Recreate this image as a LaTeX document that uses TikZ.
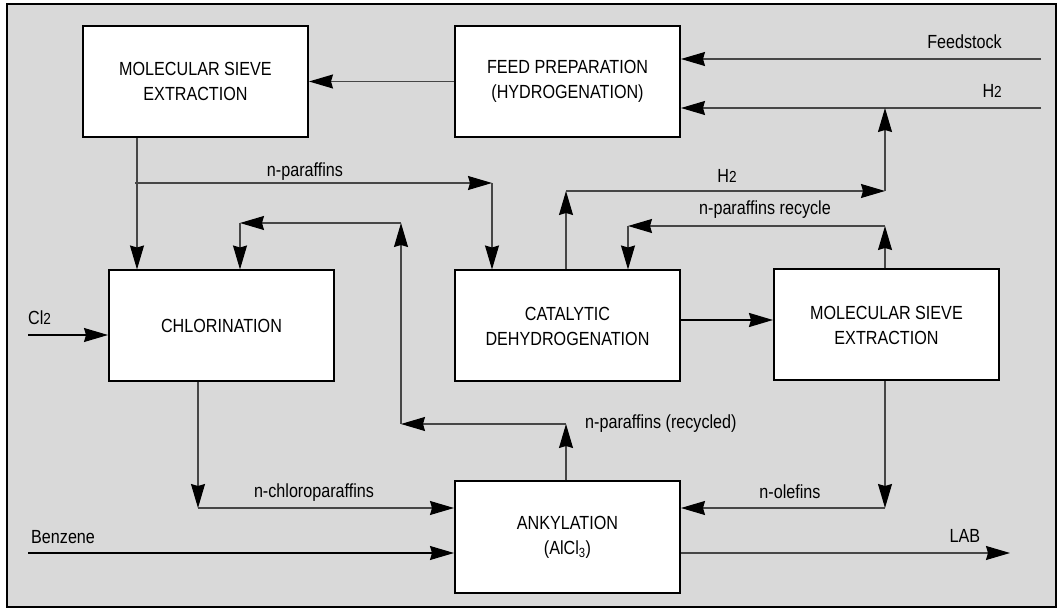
\documentclass[tikz,border=0pt]{standalone}
\usepackage{fontspec}
\setmainfont[FakeStretch=0.85]{Liberation Sans}
\usetikzlibrary{arrows.meta}
\definecolor{bggray}{RGB}{217,217,217}
\definecolor{linegray}{RGB}{70,70,70}
\newcommand{\sub}[1]{{\fontsize{16}{16}\selectfont #1}}
\tikzset{
  box/.style={draw=black, fill=white, line width=2pt, minimum width=225pt, minimum height=111pt, align=center, inner sep=0pt},
  flow/.style={draw=linegray, line width=1.2pt, -{Stealth[length=24pt,width=14pt,inset=2pt,color=black]}},
  plain/.style={draw=linegray, line width=1.2pt},
  lbl/.style={inner sep=0pt}
}
\begin{document}
\begin{tikzpicture}[x=1pt,y=-1pt,font=\fontsize{19}{25}\selectfont]
\useasboundingbox (0,0) rectangle (1058,609);
\fill[white] (0,0) rectangle (1058,609);
\filldraw[fill=bggray, draw=black, line width=2pt] (7,4) rectangle (1056,607);

% boxes
\node[box] (mse1) at (195.5,81.5) {MOLECULAR SIEVE\\EXTRACTION};
\node[box] (feed) at (567.5,81.5) {FEED PREPARATION\\(HYDROGENATION)};
\node[box] (chl)  at (221.5,326) {CHLORINATION};
\node[box] (cat)  at (567.5,326) {CATALYTIC\\DEHYDROGENATION};
\node[box] (mse2) at (886.5,325) {MOLECULAR SIEVE\\EXTRACTION};
\node[box] (alk)  at (567.5,537) {ANKYLATION\\(AlCl\textsubscript{3})};

% coordinates
\coordinate (fs) at (1041,59);
\coordinate (h2in) at (1041,108);
\coordinate (c1) at (137,183);
\coordinate (c2) at (492,183);
\coordinate (c3) at (566,191);
\coordinate (c4) at (885,191);
\coordinate (c5) at (885,108);
\coordinate (c6) at (885,226);
\coordinate (c7) at (628,226);
\coordinate (c8) at (566,424);
\coordinate (c9) at (401,424);
\coordinate (c10) at (401,223);
\coordinate (c11) at (240,223);
\coordinate (c12) at (198,508);
\coordinate (c13) at (885,508);
\coordinate (cl2) at (28,335);
\coordinate (benz) at (28,553);
\coordinate (lab) at (1010,553);
\coordinate (my) at (0,320);

% connectors
\draw[flow] (fs) -- (fs -| feed.east);
\draw[flow] (h2in) -- (h2in -| feed.east);
\draw[flow] (feed.west) -- (mse1.east);
\draw[flow] (mse1.south -| c1) -- (c1 |- chl.north);
\draw[flow] ([xshift=-2pt]c1) -- (c2);
\draw[flow] (c2) -- (c2 |- cat.north);
\draw[flow] (cat.north -| c3) -- (c3);
\draw[flow] (c3) -- (c4);
\draw[flow] (c4) -- (c5);
\draw[flow] (mse2.north -| c6) -- (c6);
\draw[flow] (c6) -- (c7);
\draw[flow] (c7) -- (c7 |- cat.north);
\draw[flow, line width=2pt, draw=black] (cat.east |- my) -- (mse2.west |- my);
\draw[flow] (alk.north -| c8) -- (c8);
\draw[flow] (c8) -- (c9);
\draw[flow] (c9) -- (c10);
\draw[flow] (c10) -- (c11);
\draw[flow] (c11) -- (c11 |- chl.north);
\draw[flow] (chl.south -| c12) -- (c12);
\draw[flow] (c12) -- (c12 -| alk.west);
\draw[flow] (mse2.south -| c13) -- (c13);
\draw[flow] (c13) -- (c13 -| alk.east);
\draw[flow, draw=black] (cl2) -- (cl2 -| chl.west);
\draw[flow, draw=black] (benz) -- (benz -| alk.west);
\draw[flow] (lab -| alk.east) -- (lab);

% labels
\node[lbl, anchor=base east] (tfs) at (1002,49) {Feedstock};
\node[lbl, anchor=base east] (th2a) at (1002,98) {H\sub{2}};
\node[lbl, anchor=base] (tnp) at (305,177) {n-paraffins};
\node[lbl, anchor=base] (th2b) at (727,183) {H\sub{2}};
\node[lbl, anchor=base] (tnpr) at (765,215) {n-paraffins recycle};
\node[lbl, anchor=base west] (tcl) at (28,325) {Cl\sub{2}};
\node[lbl, anchor=base west] (tnprec) at (585,429) {n-paraffins (recycled)};
\node[lbl, anchor=base] (tncp) at (314,497) {n-chloroparaffins};
\node[lbl, anchor=base west] (tbz) at (31,543) {Benzene};
\node[lbl, anchor=base] (tol) at (790,498) {n-olefins};
\node[lbl, anchor=base] (tlab) at (965,542) {LAB};
\end{tikzpicture}
\end{document}
